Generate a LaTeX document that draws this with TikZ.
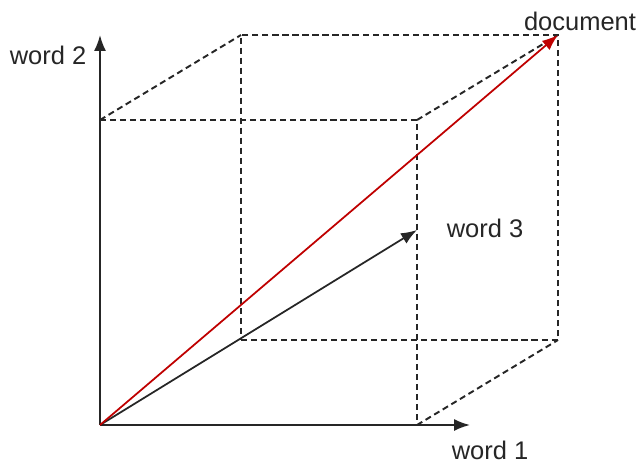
\documentclass[tikz,border=0pt]{standalone}
\usepackage{fontspec}
\setmainfont{Liberation Sans}
\usepackage{xcolor}
\usetikzlibrary{arrows.meta, positioning}

\begin{document}
\begin{tikzpicture}[
  axis/.style={-{Latex[length=3.2mm, width=2.4mm]}, line width=1pt, black!85},
  edge/.style={dashed, dash pattern=on 3.5pt off 2.2pt, line width=1.1pt, black!85},
  vec/.style={-{Latex[length=3.2mm, width=2.4mm]}, line width=1pt},
  lbl/.style={font=\fontsize{14.5}{17}\selectfont, text=black!85, inner sep=0pt}
]
  \useasboundingbox (-2, -0.76) rectangle (10.76, 8.5);

  % front face and back face
  \coordinate (O) at (0, 0);
  \coordinate (f1) at (6.34, 0);
  \coordinate (f2) at (6.34, 6.1);
  \coordinate (f3) at (0, 6.1);
  \coordinate (b0) at (2.82, 1.7);
  \coordinate (b1) at (9.16, 1.7);
  \coordinate (b2) at (9.16, 7.8);
  \coordinate (b3) at (2.82, 7.8);
  \coordinate (xend) at (7.4, 0);
  \coordinate (yend) at (0, 7.8);
  \coordinate (w3) at (6.34, 3.9);

  \node[lbl] (l1) at (7.8, -0.5) {word 1};
  \node[lbl] (l2) at (-1.04, 7.4) {word 2};
  \node[lbl] (l3) at (7.7, 3.94) {word 3};
  \node[lbl] (ld) at (9.6, 8.08) {document};

  \draw[edge] (f3) -- (f2) -- (f1);
  \draw[edge] (b0) -- (b1) -- (b2) -- (b3) -- (b0);
  \draw[edge] (f3) -- (b3);
  \draw[edge] (f2) -- (b2);
  \draw[edge] (f1) -- (b1);

  \draw[axis] (O) -- (xend);
  \draw[axis] (O) -- (yend);

  \draw[vec, black!85] (O) -- (w3);
  \draw[vec, red!75!black] (O) -- (b2);
\end{tikzpicture}
\end{document}
